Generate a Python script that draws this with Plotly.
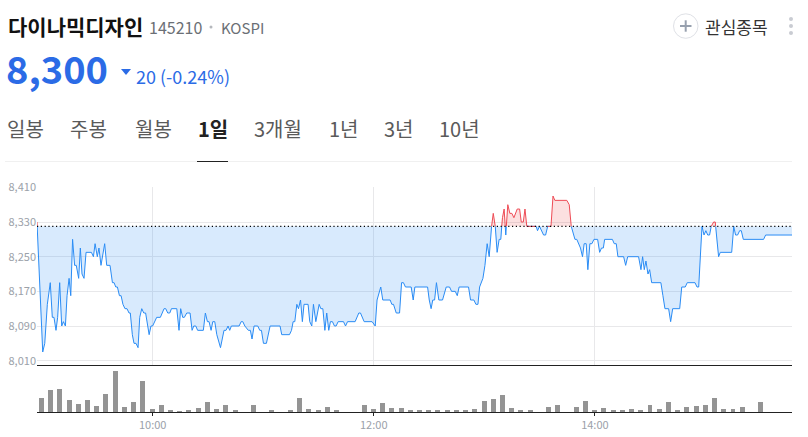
import numpy as np
import plotly.graph_objects as go
from plotly.subplots import make_subplots

# minutes since the first tick of the day, and the price at that moment
elapsed = [0, 0.1, 2.0, 3.1, 4.2, 5.6, 7.2, 8.3, 9.2, 10.3, 11.2, 12.3, 13.4, 14.3, 15.4, 16.3, 17.4, 18.3, 19.3,
           20.4, 21.3, 22.6, 23.5, 24.4, 25.5, 26.6, 29.5, 30.6, 31.5, 32.7, 33.6, 34.7, 36.7, 37.8, 39.6, 40.9,
           41.8, 42.7, 43.6, 44.7, 45.6, 46.6, 47.7, 48.8, 49.9, 50.6, 51.7, 52.6, 53.7, 54.8, 55.7, 56.8, 57.9,
           58.9, 60.8, 61.8, 62.7, 64.9, 66.9, 68.9, 69.8, 70.9, 72.0, 72.9, 75.8, 77.0, 77.9, 79.0, 79.9, 81.2,
           83.0, 84.1, 85.0, 86.1, 87.1, 90.2, 91.3, 92.4, 93.3, 94.4, 95.3, 96.4, 97.5, 99.5, 101.4, 102.5, 103.6,
           104.5, 105.4, 109.6, 110.7, 111.6, 112.7, 114.6, 115.7, 116.6, 117.7, 119.7, 120.8, 121.7, 122.8, 124.4,
           126.4, 131.8, 132.7, 136.9, 138.0, 138.9, 139.8, 140.9, 141.8, 142.9, 143.9, 144.8, 147.0, 147.9, 149.0,
           149.9, 151.2, 153.0, 153.9, 155.0, 156.1, 157.1, 158.2, 159.1, 160.2, 161.3, 162.2, 163.3, 166.2, 167.3,
           168.4, 172.5, 174.5, 175.4, 177.4, 181.7, 183.4, 184.4, 186.4, 187.5, 191.5, 192.4, 193.3, 194.8, 196.6,
           197.7, 198.7, 199.8, 202.9, 204.0, 204.9, 211.8, 212.7, 213.7, 214.6, 215.6, 216.6, 217.9, 219.9, 221.9,
           223.7, 224.8, 226.8, 227.9, 228.9, 234.0, 235.1, 236.9, 238.0, 239.1, 240.0, 241.8, 242.9, 244.1, 245.2,
           246.5, 247.4, 248.5, 249.5, 250.6, 251.5, 252.0, 252.4, 253.3, 253.9, 254.2, 254.5, 255.3, 256.4, 257.5,
           258.6, 260.4, 261.7, 262.6, 263.7, 264.6, 265.6, 270.7, 271.4, 272.5, 274.7, 275.8, 276.9, 278.7, 279.8,
           280.8, 287.3, 288.6, 289.7, 291.7, 292.7, 294.7, 295.8, 296.7, 297.8, 298.7, 299.8, 300.9, 302.0, 304.0,
           305.1, 306.1, 307.1, 307.8, 312.0, 313.0, 314.1, 315.0, 318.1, 319.2, 320.3, 326.2, 327.5, 328.4, 329.3,
           330.2, 331.3, 332.2, 333.3, 338.3, 339.4, 340.5, 342.5, 343.6, 344.7, 348.5, 349.6, 351.5, 352.6, 356.8,
           357.9, 358.8, 360.6, 361.7, 362.7, 363.7, 364.7, 365.6, 366.9, 367.8, 368.0, 368.7, 369.6, 370.5, 376.7,
           377.8, 378.8, 379.9, 381.0, 381.9, 383.0, 394.0, 395.1, 409.4]
price = [8330, 8320, 8130, 8030, 8050, 8140, 8190, 8110, 8110, 8080, 8110, 8190, 8090, 8100, 8090, 8160, 8200, 8160,
         8290, 8230, 8230, 8200, 8270, 8210, 8200, 8260, 8260, 8250, 8280, 8250, 8270, 8230, 8280, 8230, 8230, 8190,
         8190, 8180, 8180, 8160, 8160, 8140, 8130, 8130, 8120, 8120, 8070, 8050, 8050, 8040, 8110, 8130, 8120, 8120,
         8070, 8090, 8090, 8110, 8110, 8130, 8130, 8120, 8120, 8130, 8130, 8080, 8130, 8110, 8110, 8120, 8120, 8080,
         8090, 8090, 8080, 8080, 8120, 8100, 8100, 8080, 8100, 8100, 8070, 8040, 8080, 8080, 8090, 8080, 8090, 8090,
         8100, 8100, 8090, 8080, 8080, 8060, 8090, 8090, 8080, 8080, 8050, 8050, 8090, 8090, 8070, 8070, 8080, 8100,
         8100, 8140, 8130, 8150, 8100, 8140, 8140, 8100, 8090, 8140, 8100, 8140, 8130, 8130, 8080, 8120, 8080, 8100,
         8100, 8090, 8090, 8100, 8100, 8090, 8100, 8100, 8120, 8120, 8100, 8100, 8090, 8150, 8180, 8150, 8150, 8140,
         8140, 8120, 8120, 8190, 8190, 8180, 8180, 8150, 8180, 8180, 8150, 8130, 8150, 8150, 8190, 8150, 8150, 8180,
         8180, 8170, 8170, 8160, 8180, 8180, 8150, 8150, 8140, 8140, 8180, 8200, 8230, 8280, 8250, 8320, 8350, 8320,
         8260, 8290, 8290, 8320, 8340, 8360, 8320, 8300, 8320, 8370, 8350, 8350, 8340, 8360, 8360, 8330, 8330, 8360,
         8320, 8320, 8310, 8320, 8300, 8300, 8320, 8320, 8390, 8380, 8380, 8370, 8320, 8290, 8290, 8270, 8250, 8280,
         8280, 8220, 8280, 8280, 8290, 8290, 8260, 8270, 8270, 8290, 8290, 8280, 8280, 8250, 8250, 8230, 8250, 8250,
         8220, 8250, 8220, 8240, 8210, 8220, 8190, 8190, 8160, 8130, 8130, 8100, 8130, 8130, 8180, 8180, 8190, 8190,
         8180, 8180, 8320, 8300, 8310, 8300, 8300, 8320, 8330, 8330, 8320, 8280, 8250, 8260, 8260, 8320, 8300, 8300,
         8310, 8310, 8290, 8290, 8300, 8300]
prev_close = 8320

# one volume bar every five minutes
volume = [43, 67, 70, 35, 25, 35, 19, 55, 124, 16, 31, 94, 9, 20, 7, 3, 7, 13, 30, 10, 22, 6, 0, 20, 0, 6, 0, 7, 43,
          10, 6, 16, 4, 0, 0, 22, 9, 28, 13, 13, 5, 7, 7, 5, 5, 5, 4, 9, 34, 40, 52, 13, 5, 4, 0, 15, 22, 0, 16, 34,
          4, 13, 5, 5, 10, 4, 22, 10, 30, 4, 16, 19, 22, 43, 10, 10, 15, 0, 31]
bar_first = 2.4
bar_step = 5

y_ticks = [8010, 8090, 8170, 8250, 8330, 8410]
x_ticks = [62.75, 182.6, 302.5]
x_labels = ['10:00', '12:00', '14:00']
tabs = ['일봉', '주봉', '월봉', '1일', '3개월', '1년', '3년', '10년']
tab_left = [6, 69, 134, 197, 253, 328, 383, 438]

W = 808
H = 437
KR = 'Noto Sans CJK KR'
BLUE = '#2a8cf5'
RED = '#ee4b55'
PRICE_BLUE = '#2b6be6'
GRID = '#e8e8ea'
TICK_GREY = '#9ba1a9'


def px(x):
    return x / W


def py(y):
    return 1 - y / H


def add_text(fig, x, y, text, size, color, anchor='left', bold=False):
    if bold:
        text = '<b>' + text + '</b>'
    fig.add_annotation(x=px(x), y=py(y), xref='paper', yref='paper', text=text, showarrow=False,
                       xanchor=anchor, yanchor='middle', borderpad=0,
                       font=dict(family=KR, size=size, color=color))


def add_header(fig):
    add_text(fig, 7, 26, '다이나믹디자인', 21, '#111111', bold=True)
    add_text(fig, 148, 27, '145210', 16, '#6b6f75')
    add_text(fig, 220, 27, 'KOSPI', 15, '#6b6f75')
    add_text(fig, 5, 68, '8,300', 38, PRICE_BLUE, bold=True)
    add_text(fig, 135, 75.5, '20 (-0.24%)', 18, PRICE_BLUE)
    add_text(fig, 704, 26, '관심종목', 17, '#333333')
    for i in range(len(tabs)):
        active = tabs[i] == '1일'
        add_text(fig, tab_left[i], 128.5, tabs[i], 20, '#222222' if active else '#5a5a5a', bold=active)

    shapes = [
        dict(type='path', path='M %f %f L %f %f L %f %f Z' % (px(121), py(69), px(131), py(69), px(126), py(75)),
             fillcolor=PRICE_BLUE, line_width=0),
        dict(type='circle', x0=px(211 - 1.5), x1=px(211 + 1.5), y0=py(25.5), y1=py(28.5), fillcolor='#b5b8bd',
             line_width=0),
        dict(type='circle', x0=px(673.5), x1=px(698), y0=py(38.3), y1=py(13.8), line=dict(color='#dfe1e6', width=1)),
        dict(type='line', x0=px(680), x1=px(691.5), y0=py(26), y1=py(26), line=dict(color='#97a0ae', width=2)),
        dict(type='line', x0=px(685.7), x1=px(685.7), y0=py(20.3), y1=py(31.7), line=dict(color='#97a0ae', width=2)),
        dict(type='line', x0=px(5), x1=px(792), y0=py(161.5), y1=py(161.5), line=dict(color='#f0f0f0', width=1)),
        dict(type='line', x0=px(197), x1=px(228), y0=py(161.5), y1=py(161.5), line=dict(color='#222222', width=1)),
    ]
    for y in [19, 26, 33]:
        shapes.append(dict(type='circle', x0=px(789), x1=px(793), y0=py(y + 2), y1=py(y - 2),
                           fillcolor='#c9ccd2', line_width=0))
    for s in shapes:
        s['xref'] = 'paper'
        s['yref'] = 'paper'
        fig.add_shape(s)


def add_price(fig):
    x = np.array(elapsed)
    p = np.array(price, dtype=float)
    base = np.full(len(x), float(prev_close))

    fig.add_trace(go.Scatter(x=x, y=base, mode='lines', line=dict(width=0), hoverinfo='skip'), row=1, col=1)
    fig.add_trace(go.Scatter(x=x, y=np.minimum(p, base), mode='lines', line=dict(width=0), fill='tonexty',
                             fillcolor='rgba(60,150,245,0.2)', hoverinfo='skip'), row=1, col=1)
    fig.add_trace(go.Scatter(x=x, y=base, mode='lines', line=dict(width=0), hoverinfo='skip'), row=1, col=1)
    fig.add_trace(go.Scatter(x=x, y=np.maximum(p, base), mode='lines', line=dict(width=0), fill='tonexty',
                             fillcolor='rgba(235,60,60,0.16)', hoverinfo='skip'), row=1, col=1)

    fig.add_trace(go.Scatter(x=x, y=np.where(p <= prev_close, p, np.nan), mode='lines',
                             line=dict(color=BLUE, width=1)), row=1, col=1)
    fig.add_trace(go.Scatter(x=x, y=np.where(p >= prev_close, p, np.nan), mode='lines',
                             line=dict(color=RED, width=1)), row=1, col=1)
    fig.add_trace(go.Scatter(x=[0, elapsed[-1]], y=[prev_close, prev_close], mode='lines',
                             line=dict(color='#000000', width=1.2, dash='1.2px,2.6px')), row=1, col=1)


def add_volume(fig):
    x = bar_first + bar_step * np.arange(len(volume))
    fig.add_trace(go.Bar(x=x, y=volume, width=2.7, marker=dict(color='#949494', line_width=0)), row=2, col=1)


def main():
    fig = make_subplots(rows=2, cols=1, shared_xaxes=True, vertical_spacing=0)
    add_price(fig)
    add_volume(fig)

    fig.update_xaxes(range=[0, elapsed[-1]], tickvals=x_ticks, ticktext=x_labels, zeroline=False)
    fig.update_xaxes(domain=[px(37), px(792)])
    fig.update_xaxes(showgrid=True, gridcolor=GRID, gridwidth=1, showline=True, linecolor='#222222', linewidth=1,
                     ticks='', showticklabels=False, row=1, col=1)
    fig.update_xaxes(showgrid=False, showline=True, linecolor='#222222', linewidth=1, ticks='outside', ticklen=3,
                     tickcolor='#222222', tickwidth=1, showticklabels=True,
                     tickfont=dict(family=KR, size=11, color=TICK_GREY), row=2, col=1)
    fig.update_yaxes(domain=[py(365), py(186.5)], range=[8000, 8412], tickvals=y_ticks, tickformat=',d',
                     showgrid=True, gridcolor=GRID, gridwidth=1, zeroline=False, showline=False, ticks='',
                     tickfont=dict(family=KR, size=11, color=TICK_GREY), row=1, col=1)
    fig.update_yaxes(domain=[py(412), py(370)], range=[0, 127], showgrid=False, zeroline=False, showline=False,
                     showticklabels=False, ticks='', row=2, col=1)

    add_header(fig)
    fig.update_layout(width=W, height=H, margin=dict(l=0, r=0, t=0, b=0, autoexpand=False), showlegend=False,
                      bargap=0, paper_bgcolor='white', plot_bgcolor='white', hovermode=False)
    fig.write_html("out.html", config=dict(displayModeBar=False), post_script="document.body.style.margin='0';")


if __name__ == "__main__":
    main()
